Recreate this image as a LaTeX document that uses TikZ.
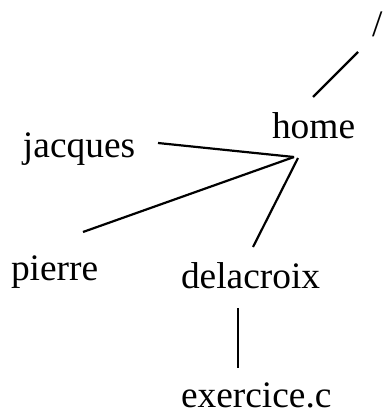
\documentclass[tikz,border=0pt]{standalone}
\usepackage{fontspec}
\setmainfont{Liberation Serif}
\begin{document}
\begin{tikzpicture}[x=1pt,y=-1pt,
  lbl/.style={anchor=base west,inner sep=0pt,outer sep=0pt,font=\fontsize{37.4}{40}\selectfont},
  edge/.style={line width=2.2pt}]
\useasboundingbox (0,0) rectangle (384,412);
\node[lbl] (root) at (372,37) {/};
\node[lbl] (home) at (272,138) {home};
\node[lbl] (jacques) at (23,157) {jacques};
\node[lbl] (pierre) at (11,280) {pierre};
\node[lbl] (delacroix) at (181,288) {delacroix};
\node[lbl] (exercice) at (181,407) {exercice.c};
\coordinate (hub) at (294,157);
\coordinate (hubd) at (298,158);
\coordinate (rootend) at (358,52);
\coordinate (homeend) at (313,97);
\coordinate (jend) at (158,143);
\coordinate (pend) at (83,232);
\coordinate (dend) at (253,247);
\coordinate (dtop) at (238,308);
\coordinate (dbot) at (238,368);
\draw[edge] (rootend) -- (homeend);
\draw[edge] (jend) -- (hub);
\draw[edge] (pend) -- (hub);
\draw[edge] (hubd) -- (dend);
\draw[edge] (dtop) -- (dbot);
\end{tikzpicture}
\end{document}
